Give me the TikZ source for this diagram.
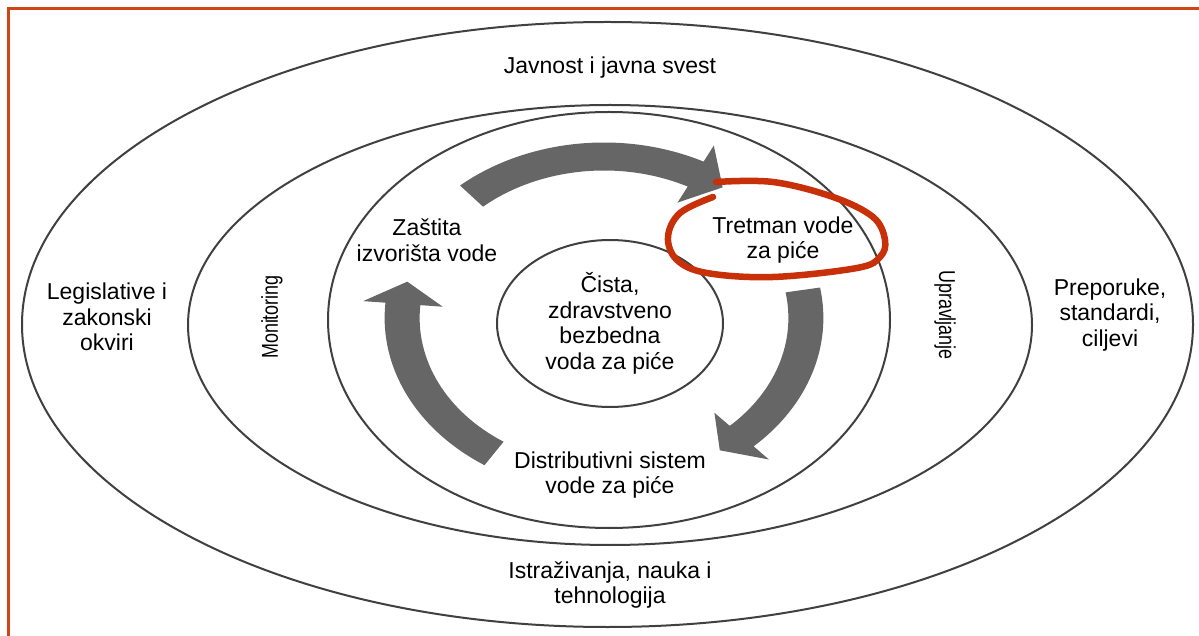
\documentclass[tikz,border=0pt]{standalone}
\usepackage{fontspec}
\setmainfont{Liberation Sans}
\newfontfamily\narrowfont{Liberation Sans}[FakeStretch=0.78]
\usepackage{tikz}
\usetikzlibrary{shapes}
\definecolor{frameorange}{RGB}{208,68,22}
\definecolor{markred}{RGB}{200,48,10}
\definecolor{arrowgray}{RGB}{102,102,102}
\definecolor{ringgray}{RGB}{64,64,64}
\tikzstyle{ring_normal} = [ellipse, draw=ringgray, line width=2pt, inner sep=0pt]
\tikzstyle{label_normal} = [align=center, inner sep=0pt, font=\fontsize{23}{25.5}\selectfont]
\tikzstyle{label_narrow} = [inner sep=0pt, font=\narrowfont\fontsize{23}{25}\selectfont]
\tikzstyle{arrow_normal} = [fill=arrowgray]
\tikzstyle{frame_normal} = [draw=frameorange, line width=2.7pt]
\tikzstyle{highlight_normal} = [draw=markred, line width=6.5pt, line cap=round]

\begin{document}
\begin{tikzpicture}[x=1pt, y=1pt]
\useasboundingbox (0,0) rectangle (1199,635);
\draw[frame_normal] (8.5,-5) -- (8.5,626.7) -- (1205,626.7);
\node (E1) at (607.5,310.5) [ring_normal, minimum width=1171pt, minimum height=605pt] {};
\node (E2) at (610,310) [ring_normal, minimum width=844pt, minimum height=440pt] {};
\node (E3) at (609,315) [ring_normal, minimum width=562pt, minimum height=416pt] {};
\node (C) at (610,311.5) [ring_normal, label_normal, minimum width=226pt, minimum height=167pt] {Čista,\\zdravstveno\\bezbedna\\voda za piće};
\coordinate (O) at (604,317);
\fill[arrow_normal, shift={(O)}, xscale=1.25] (131:175.5) arc[start angle=131, end angle=63, radius=175.5] -- (63:193.5) -- (54:161.5) -- (63:129.5) -- (63:147.5) arc[start angle=63, end angle=131, radius=147.5] -- cycle;
\fill[arrow_normal, shift={(O)}, xscale=1.25] (10:175.5) arc[start angle=10, end angle=-47, radius=175.5] -- (-47:193.5) -- (-55:161.5) -- (-47:129.5) -- (-47:147.5) arc[start angle=-47, end angle=10, radius=147.5] -- cycle;
\fill[arrow_normal, shift={(O)}, xscale=1.25] (237:175.5) arc[start angle=237, end angle=175, radius=175.5] -- (175:193.5) -- (167:161.5) -- (175:129.5) -- (175:147.5) arc[start angle=175, end angle=237, radius=147.5] -- cycle;
\node (J) at (610,567) [label_normal] {Javnost i javna svest};
\node (L) at (107,318) [label_normal] {Legislative i\\zakonski\\okviri};
\node (P) at (1110,320) [label_normal] {Preporuke,\\standardi,\\ciljevi};
\node (I) at (610,50) [label_normal] {Istraživanja, nauka i\\tehnologija};
\node (M) at (272,318) [label_narrow, rotate=90] {Monitoring};
\node (U) at (945,320) [label_narrow, rotate=-90] {Upravljanje};
\node (Z) at (427,395) [label_normal] {Zaštita\\izvorišta vode};
\node (T) at (783,395) [label_normal] {Tretman vode\\za piće};
\node (D) at (610,160) [label_normal] {Distributivni sistem\\vode za piće};
\draw[highlight_normal] plot[smooth, tension=0.6] coordinates {(716,453) (773,453) (833,438) (873,418) (885,395) (880,378) (857,367) (773,358) (707,362) (677,375) (668,398) (680,422) (713,438)};
\end{tikzpicture}
\end{document}
